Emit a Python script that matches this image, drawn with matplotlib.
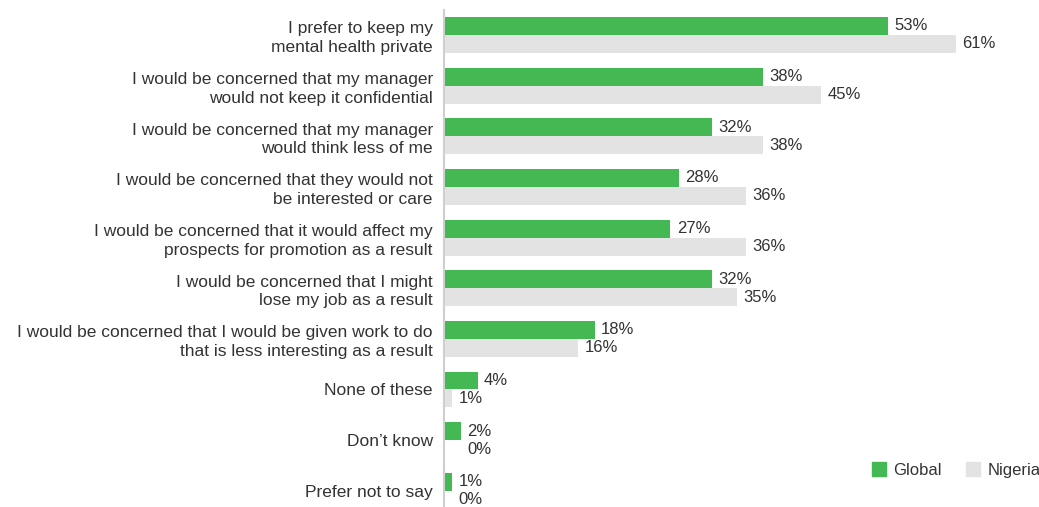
import matplotlib
matplotlib.use("Agg")
import matplotlib.pyplot as plt
from matplotlib.patches import Patch

plt.rcParams["font.family"] = ["Liberation Sans", "DejaVu Sans"]

CATEGORIES = [
    "I prefer to keep my\nmental health private",
    "I would be concerned that my manager\nwould not keep it confidential",
    "I would be concerned that my manager\nwould think less of me",
    "I would be concerned that they would not\nbe interested or care",
    "I would be concerned that it would affect my\nprospects for promotion as a result",
    "I would be concerned that I might\nlose my job as a result",
    "I would be concerned that I would be given work to do\nthat is less interesting as a result",
    "None of these",
    "Don\u2019t know",
    "Prefer not to say",
]
GLOBAL = [53, 38, 32, 28, 27, 32, 18, 4, 2, 1]
NIGERIA = [61, 45, 38, 36, 36, 35, 16, 1, 0, 0]

GREEN = "#44b853"
GREY = "#e3e3e3"
TEXT = "#333333"

fig = plt.figure(figsize=(10.39, 5.07), dpi=100)
ax = fig.add_axes([0.4273, 0.0, 0.565, 0.980])

bar_h = 0.355
ys = list(range(len(CATEGORIES)))
ax.barh([y - bar_h / 2 for y in ys], GLOBAL, height=bar_h, color=GREEN)
ax.barh([y + bar_h / 2 for y in ys], NIGERIA, height=bar_h, color=GREY)

# value labels; zero values sit next to the other bar of the pair
for y, g, n in zip(ys, GLOBAL, NIGERIA):
    gx = g if g > 0 else n
    nx = n if n > 0 else g
    ax.annotate(f"{g}%", (gx, y - bar_h / 2), xytext=(4.5, 0), textcoords="offset points",
                va="center", ha="left", fontsize=12, color=TEXT)
    ax.annotate(f"{n}%", (nx, y + bar_h / 2), xytext=(4.5, 0), textcoords="offset points",
                va="center", ha="left", fontsize=12, color=TEXT)

ax.set_xlim(0, 70)
ax.set_ylim(9.32, -0.49)
ax.set_yticks(ys)
ax.set_yticklabels(CATEGORIES, fontsize=12.5, color=TEXT, linespacing=1.3)
ax.tick_params(axis="y", length=0, pad=8)
ax.set_xticks([])
for side in ["top", "right", "bottom"]:
    ax.spines[side].set_visible(False)
ax.spines["left"].set_color("#cfcfcf")
ax.spines["left"].set_linewidth(1.5)

handles = [Patch(color=GREEN, label="Global"), Patch(color=GREY, label="Nigeria")]
fig.legend(handles=handles, loc="center right", bbox_to_anchor=(1.016, 0.073), ncol=2,
           frameon=False, fontsize=12, handlelength=0.85, handleheight=0.85,
           handletextpad=0.42, columnspacing=1.5, labelcolor=TEXT)

fig.savefig("out.png", dpi=100)
